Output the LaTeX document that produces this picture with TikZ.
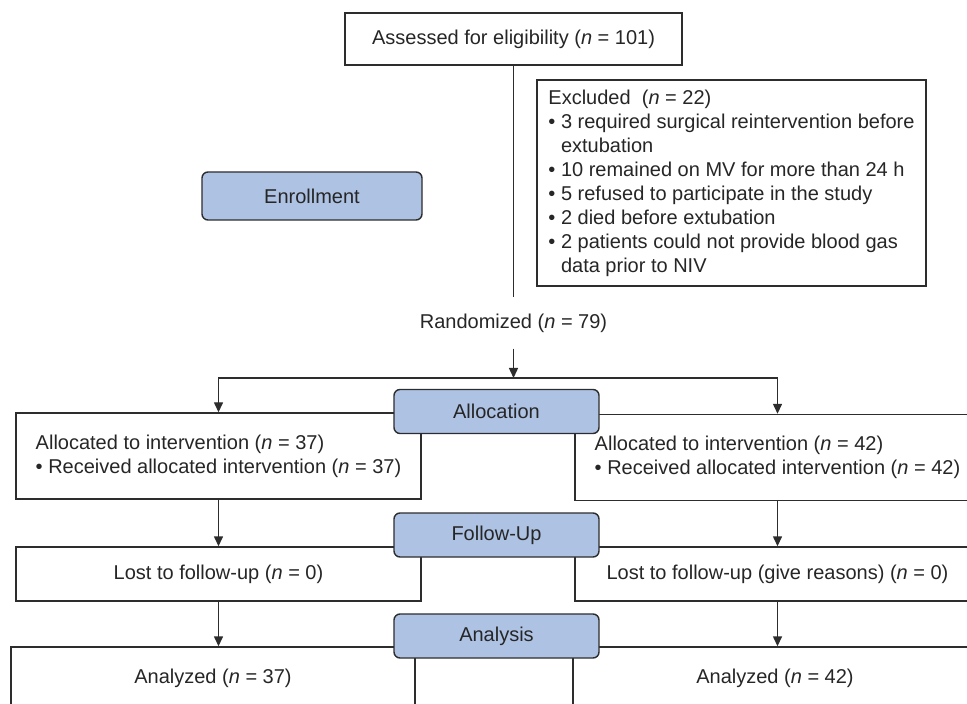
\documentclass[tikz,border=0pt]{standalone}
\usepackage{fontspec}
\setmainfont{Liberation Sans}
\usepackage{tikz}
\usetikzlibrary{arrows.meta}
\definecolor{phaseblue}{RGB}{174,195,228}
\definecolor{linegray}{RGB}{45,45,45}
\tikzstyle{stage} = [rectangle, rounded corners=3pt, minimum width=102.5pt, minimum height=22pt, text centered, draw=linegray, fill=phaseblue, line width=0.7pt]
\tikzstyle{whitebox} = [rectangle, minimum width=202.5pt, minimum height=27pt, text centered, draw=linegray, fill=white, line width=0.7pt]
\tikzstyle{listbox} = [whitebox, align=left]
\tikzstyle{plain} = [draw=linegray, line width=0.7pt]
\tikzstyle{arrow} = [plain, -{Triangle[length=5pt,width=4.5pt]}]

\begin{document}
\begin{tikzpicture}[x=0.5pt, y=-0.5pt, font=\fontsize{10}{12}\selectfont, text=black!85]
	\useasboundingbox (0,0) rectangle (967,704);
	\node (assess) [whitebox, minimum width=168.5pt, minimum height=26pt] at (513.5,39) {Assessed for eligibility (\textit{n} = 101)};
	\node (excluded) [listbox, minimum width=194.5pt, minimum height=103pt] at (731.5,183) {Excluded~~(\textit{n} = 22)\\
		\textbullet\ 3 required surgical reintervention before\\
		\phantom{\textbullet\ }extubation\\
		\textbullet\ 10 remained on MV for more than 24 h\\
		\textbullet\ 5 refused to participate in the study\\
		\textbullet\ 2 died before extubation\\
		\textbullet\ 2 patients could not provide blood gas\\
		\phantom{\textbullet\ }data prior to NIV};
	\node (enroll) [stage, minimum width=110pt, minimum height=24pt] at (312,196) {Enrollment};
	\node (rand) [inner ysep=8pt] at (513.5,323) {Randomized (\textit{n} = 79)};
	\coordinate (split) at (513.5,378);
	
	\node (allocL) [listbox, minimum height=43pt] at (218.5,456) {Allocated to intervention (\textit{n} = 37)\\ \textbullet\ Received allocated intervention (\textit{n} = 37)};
	\node (allocR) [listbox, minimum height=43pt] at (777.5,457.5) {Allocated to intervention (\textit{n} = 42)\\ \textbullet\ Received allocated intervention (\textit{n} = 42)};
	\node (lostL) [whitebox] at (218.5,574) {Lost to follow-up (\textit{n} = 0)};
	\node (lostR) [whitebox] at (777.5,574) {Lost to follow-up (give reasons) (\textit{n} = 0)};
	\node (anaL) [whitebox, minimum width=202pt, minimum height=31.5pt] at (213,678.5) {Analyzed (\textit{n} = 37)};
	\node (anaR) [whitebox, minimum width=202pt, minimum height=31.5pt] at (775,678.5) {Analyzed (\textit{n} = 42)};
	
	\node (allocation) [stage] at (496.5,411.5) {Allocation};
	\node (followup) [stage] at (496.5,535) {Follow-Up};
	\node (analysis) [stage] at (496.5,636) {Analysis};
	
	\draw [plain](assess) -- (rand);
	\draw [arrow](rand) -- (split);
	\draw [arrow](split) -| (allocL);
	\draw [arrow](split) -| (allocR);
	\draw [arrow](allocL) -- (lostL);
	\draw [arrow](allocR) -- (lostR);
	\draw [arrow](lostL.south) -- (lostL.south |- anaL.north);
	\draw [arrow](lostR.south) -- (lostR.south |- anaR.north);
\end{tikzpicture}
\end{document}
